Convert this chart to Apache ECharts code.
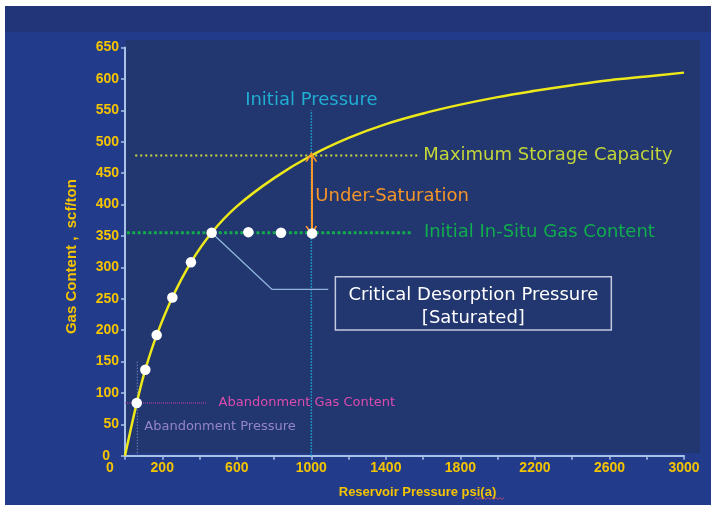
<!DOCTYPE html>
<html><head><meta charset="utf-8">
<script src="https://cdn.jsdelivr.net/npm/echarts@6/dist/echarts.min.js"></script>
<style>html,body{margin:0;padding:0;background:#fff}#c{width:714px;height:507px}</style>
</head><body><div id="c"></div>
<script>
// Isotherm curve
const pressure   = [0, 63, 109, 170, 254, 354, 465, 600, 800, 1000, 1200, 1400, 1600, 1800, 2000, 2200, 2400, 2600, 2800, 3000];
const gasContent = [0, 84, 137, 192, 252, 308, 355, 397, 442, 478, 506, 528, 545, 559, 571, 581, 590, 598, 604, 610];
// White measurement points
const pointPressure = [63, 109, 170, 254, 354, 465, 662, 837, 1004];
const pointGas      = [84, 137, 192, 252, 308, 355, 356, 355, 354];
// Key values
const maxCapacity = 478;
const insituContent = 355;
const initialPressure = 1000;
const initialPressureTop = 550;
const abandonPressure = 66;
const abandonPressureTop = 151;
const abandonContent = 84;
const abandonContentEnd = 438;
const maxLineRange = [55, 1585];
const insituLineRange = [10, 1545];
const underSatRange = [476, 358];
const underSatLabelGas = 413;
const abandonLabelGas = 46;
const leaderPressure = [465, 788, 1091];
const leaderGas = [355, 265, 265];
const boxPressure = [1129, 2610];
const boxGas = [285, 200];
// Axis ticks
const xMin = 0, xMax = 3000, xStep = 200;
const yMin = 0, yMax = 650, yStep = 50;

const yellow = '#f5c400';
const font = 'DejaVu Sans';
const chevron = 'path://M0,10 L5,0 L10,10 L8.4,10 L5,3.2 L1.6,10 Z';

// spell-check squiggle under "psi(a)" (decoration)
const squiggle = [];
for (let i = 0; i <= 15; i++) squiggle.push([474 + i * 2, i % 2 ? 497.5 : 499.5]);

const chart = echarts.init(document.getElementById('c'));
const lbl = (text, color, size, pos, dist) => ({show:true, formatter:text, color:color, fontSize:size, fontFamily:font, position:pos, distance:dist, opacity:1});

chart.setOption({
  animation:false,
  graphic:[
    {type:'rect', z:-10, silent:true, shape:{x:5,y:6,width:706,height:499}, style:{fill:'#223b8b'}},
    {type:'rect', z:-9, silent:true, shape:{x:5,y:6,width:706,height:26}, style:{fill:'#233579'}},
    {type:'rect', z:-8, silent:true, shape:{x:125,y:40,width:575,height:413}, style:{fill:'#22366f'}},
    {type:'polyline', z:50, silent:true, shape:{points:squiggle}, style:{stroke:'#d8506a', lineWidth:0.8, fill:null}}
  ],
  grid:{left:125, right:30, top:47.5, bottom:51.3},
  xAxis:{
    type:'value', min:xMin, max:xMax, interval:xStep,
    name:'Reservoir Pressure psi(a)', nameLocation:'middle', nameGap:30,
    nameTextStyle:{color:yellow, fontWeight:'bold', fontSize:13, fontFamily:'Liberation Sans', padding:[0,0,0,26]},
    axisLine:{lineStyle:{color:'#a9c2e8', width:2}},
    axisTick:{length:4, lineStyle:{color:'#a9c2e8', width:1.5}},
    splitLine:{show:false},
    axisLabel:{color:yellow, fontWeight:'bold', fontSize:14, fontFamily:'Liberation Sans', margin:5,
      formatter:v => v === 0 ? '{z|0}' : ((v - 200) % 400 === 0 ? String(v) : ''),
      rich:{z:{color:yellow, fontWeight:'bold', fontSize:14, fontFamily:'Liberation Sans', padding:[0,30,0,0]}}}
  },
  yAxis:{
    type:'value', min:yMin, max:yMax, interval:yStep,
    name:'Gas Content ,  scf/ton', nameLocation:'middle', nameGap:46, nameRotate:90,
    nameTextStyle:{color:yellow, fontWeight:'bold', fontSize:15, fontFamily:'Liberation Sans', padding:[0,10,0,0]},
    axisLine:{show:true, lineStyle:{color:'#a9c2e8', width:2}},
    axisTick:{show:true, length:4, lineStyle:{color:'#a9c2e8', width:1.5}},
    splitLine:{show:false},
    axisLabel:{color:yellow, fontWeight:'bold', fontSize:14, fontFamily:'Liberation Sans', margin:6,
      formatter:v => v === 0 ? '{z|0}' : String(v),
      rich:{z:{color:yellow, fontWeight:'bold', fontSize:14, fontFamily:'Liberation Sans', padding:[0,9,0,0]}}}
  },
  series:[
    {type:'line', name:'maxcap', data:[[maxLineRange[0],maxCapacity],[maxLineRange[1],maxCapacity]], showSymbol:false, silent:true,
      lineStyle:{color:'#cddc38', width:2, type:[2,3]}, z:3},
    {type:'line', name:'insitu', data:[[insituLineRange[0],insituContent],[insituLineRange[1],insituContent]], showSymbol:false, silent:true,
      lineStyle:{color:'#12ac4c', width:3, type:[3,2.4]}, z:3},
    {type:'line', name:'initp', data:[[initialPressure,0],[initialPressure,initialPressureTop]], showSymbol:false, silent:true,
      lineStyle:{color:'#1ea6d6', width:1.5, type:[1.5,1.5]}, z:3},
    {type:'line', name:'abandc', data:[[0,abandonContent],[abandonContentEnd,abandonContent]], showSymbol:false, silent:true,
      lineStyle:{color:'#c83eae', width:1, type:[1,1]}, z:3},
    {type:'line', name:'abandp', data:[[abandonPressure,0],[abandonPressure,abandonPressureTop]], showSymbol:false, silent:true,
      lineStyle:{color:'#8fa8e0', width:1, type:[1,2]}, z:3},
    {type:'line', name:'leader', data:leaderPressure.map((p,i)=>[p,leaderGas[i]]), showSymbol:false, silent:true,
      lineStyle:{color:'#8fb5dc', width:1.3}, z:3,
      markArea:{silent:true, itemStyle:{color:'rgba(0,0,0,0)', borderColor:'#c4cadf', borderWidth:1.5, opacity:1},
        label:{show:true, position:'inside', color:'#ffffff', fontSize:18, fontFamily:font, lineHeight:23, offset:[0,3],
          formatter:'Critical Desorption Pressure\n[Saturated]'},
        data:[[{coord:[boxPressure[0],boxGas[0]]},{coord:[boxPressure[1],boxGas[1]]}]]}},
    {type:'line', name:'undersat', data:[], silent:true,
      markLine:{silent:true, symbol:[chevron, chevron], symbolSize:[12,10], label:{show:false},
        lineStyle:{color:'#f5952a', width:2, type:'solid', opacity:1},
        data:[[{coord:[initialPressure,underSatRange[0]]},{coord:[initialPressure,underSatRange[1]]}]]}},
    {type:'line', name:'curve', data:pressure.map((p,i)=>[p,gasContent[i]]), smooth:0.4, showSymbol:false, silent:true,
      lineStyle:{color:'#ece81a', width:2.5}, z:4},
    {type:'scatter', name:'points', data:pointPressure.map((p,i)=>[p,pointGas[i]]), symbolSize:10.5, silent:true,
      itemStyle:{color:'#ffffff', opacity:1}, z:5},
    {type:'scatter', name:'labels', symbolSize:0, silent:true, z:6, itemStyle:{opacity:1},
      data:[
        {value:[maxLineRange[1],maxCapacity], label:lbl('Maximum Storage Capacity','#c2d63a',18,'right',3)},
        {value:[insituLineRange[1],insituContent], label:lbl('Initial In-Situ Gas Content','#10ad4c',18,'right',11)},
        {value:[initialPressure,initialPressureTop], label:lbl('Initial Pressure','#20aed2',18,'top',1)},
        {value:[initialPressure,underSatLabelGas], label:lbl('Under-Saturation','#f5952a',18,'right',4)},
        {value:[abandonContentEnd,abandonContent], label:lbl('Abandonment Gas Content','#dc4cb0',13,'right',12)},
        {value:[abandonPressure,abandonLabelGas], label:lbl('Abandonment Pressure','#9486c8',13,'right',7)}
      ]}
  ]
});
</script></body></html>
